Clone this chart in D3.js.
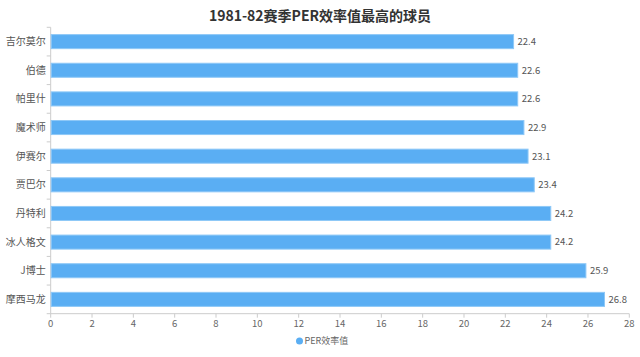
<!DOCTYPE html>
<html><head><meta charset="utf-8">
<script src="https://cdn.jsdelivr.net/npm/d3@7"></script>
<style>body{margin:0;background:#fff}svg{display:block}</style>
</head><body>
<svg id="c" width="640" height="357"></svg>
<script>
const title = "1981-82赛季PER效率值最高的球员";
const players = ["吉尔莫尔","伯德","帕里什","魔术师","伊赛尔","贾巴尔","丹特利","冰人格文","J博士","摩西马龙"];
const perValues = [22.4,22.6,22.6,22.9,23.1,23.4,24.2,24.2,25.9,26.8];
const xTicks = [0,2,4,6,8,10,12,14,16,18,20,22,24,26,28];
const seriesName = "PER效率值";

const font = "'Noto Sans CJK SC','Noto Sans',sans-serif";
const svg = d3.select("#c");
const m = {l:50.7, r:629.3, t:27.3, b:313.7};
const x = d3.scaleLinear().domain([0,28]).range([m.l,m.r]);
const y = d3.scaleBand().domain(players).range([m.t,m.b]);
const barH = y.bandwidth()*0.49;
const barColor = "#5aaef3";

svg.append("text").attr("x",320).attr("y",21).attr("text-anchor","middle")
  .attr("font-family",font).attr("font-size",14).attr("font-weight","bold").attr("fill","#333").text(title);

// y axis
const ya = svg.append("g").attr("transform",`translate(${m.l},0)`);
ya.append("line").attr("x1",0).attr("x2",0).attr("y1",m.t).attr("y2",m.b).attr("stroke","#ccc");
const yTickPos = d3.range(players.length+1).map(i=>m.t+i*y.step());
ya.selectAll("line.t").data(yTickPos).join("line").attr("class","t")
  .attr("x1",-4).attr("x2",0).attr("y1",d=>d).attr("y2",d=>d).attr("stroke","#ccc");
ya.selectAll("text").data(players).join("text")
  .attr("x",-5).attr("y",d=>y(d)+y.bandwidth()/2).attr("dy","0.35em").attr("text-anchor","end")
  .attr("font-family",font).attr("font-size",10).attr("fill","#555").text(d=>d);

// x axis
const xa = svg.append("g").attr("transform",`translate(0,${m.b})`);
xa.append("line").attr("x1",m.l).attr("x2",m.r).attr("y1",0).attr("y2",0).attr("stroke","#ccc");
xa.selectAll("line.t").data(xTicks).join("line").attr("class","t")
  .attr("x1",d=>x(d)).attr("x2",d=>x(d)).attr("y1",0).attr("y2",4).attr("stroke","#ccc");
xa.selectAll("text").data(xTicks).join("text")
  .attr("x",d=>x(d)).attr("y",13).attr("text-anchor","middle")
  .attr("font-family",font).attr("font-size",9.5).attr("fill","#666").text(d=>d);

// bars
svg.selectAll("rect.bar").data(players).join("rect").attr("class","bar")
  .attr("x",x(0)+0.5).attr("y",(d)=>y(d)+(y.bandwidth()-barH)/2)
  .attr("width",(d,i)=>x(perValues[i])-x(0)-0.5).attr("height",barH)
  .attr("fill",barColor).attr("stroke","#8ec8f7").attr("stroke-width",1);

svg.selectAll("text.val").data(players).join("text").attr("class","val")
  .attr("x",(d,i)=>x(perValues[i])+4).attr("y",d=>y(d)+y.bandwidth()/2).attr("dy","0.35em")
  .attr("font-family",font).attr("font-size",9.5).attr("fill","#555").text((d,i)=>perValues[i]);

// legend
svg.append("circle").attr("cx",299.5).attr("cy",341).attr("r",3.5).attr("fill",barColor);
svg.append("text").attr("x",304.5).attr("y",341).attr("dy","0.35em")
  .attr("font-family",font).attr("font-size",9).attr("fill","#666").text(seriesName);
</script>
</body></html>
